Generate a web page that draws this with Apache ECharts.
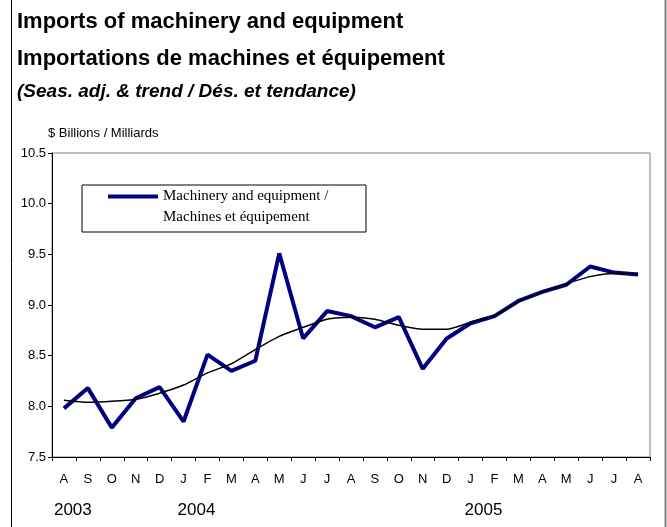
<!DOCTYPE html>
<html>
<head>
<meta charset="utf-8">
<script src="https://cdn.jsdelivr.net/npm/echarts@6/dist/echarts.min.js"></script>
</head>
<body style="margin:0;background:#fff">
<div id="main" style="width:667px;height:527px;"></div>
<script type="text/javascript">
    // month letters and year labels along the bottom
    var months = ['A', 'S', 'O', 'N', 'D', 'J', 'F', 'M', 'A', 'M', 'J', 'J', 'A',
                  'S', 'O', 'N', 'D', 'J', 'F', 'M', 'A', 'M', 'J', 'J', 'A'];
    var years = ['2003', '', '', '', '', '2004', '', '', '', '', '', '', '',
                 '', '', '', '', '2005', '', '', '', '', '', '', ''];

    // seasonally adjusted, $ billions
    var seasAdj = [7.98, 8.18, 7.79, 8.08, 8.19, 7.85, 8.51, 8.35, 8.45, 9.51, 8.67, 8.94, 8.89,
                   8.78, 8.88, 8.37, 8.67, 8.82, 8.89, 9.04, 9.13, 9.20, 9.38, 9.32, 9.30];
    // trend
    var trend = [8.06, 8.04, 8.05, 8.07, 8.13, 8.21, 8.33, 8.42, 8.56, 8.69, 8.78, 8.86, 8.88,
                 8.86, 8.80, 8.76, 8.76, 8.83, 8.90, 9.03, 9.13, 9.21, 9.28, 9.31, 9.31];

    var yTicks = { min: 7.5, max: 10.5, interval: 0.5 };

    var seriesName = 'Machinery and equipment /\nMachines et équipement';
    var sans = 'Liberation Sans, Arial, sans-serif';

    var myChart = echarts.init(document.getElementById('main'));

    var option = {
        backgroundColor: '#fff',
        animation: false,
        title: [{
            text: 'Imports of machinery and equipment',
            left: 12, top: 6,
            textStyle: { fontFamily: sans, fontSize: 22, fontWeight: 'bold', color: '#000' }
        }, {
            text: 'Importations de machines et équipement',
            left: 12, top: 43,
            textStyle: { fontFamily: sans, fontSize: 22, fontWeight: 'bold', color: '#000' }
        }, {
            text: '(Seas. adj. & trend / Dés. et tendance)',
            left: 12, top: 77,
            textStyle: { fontFamily: sans, fontSize: 19, fontWeight: 'bold', fontStyle: 'italic', color: '#000' }
        }],
        legend: {
            data: [seriesName],
            left: 108,
            top: 186,
            padding: 0,
            itemWidth: 50,
            itemHeight: 42,
            // thick line on the first text row; the two specks only stretch the box to 42px
            icon: 'path://M0,8.5L50,8.5L50,12.5L0,12.5Z M0,0L0.05,0L0.05,0.05Z M0,42L0.05,42L0.05,41.95Z',
            textStyle: {
                fontFamily: 'Liberation Serif, Times New Roman, serif',
                fontSize: 15,
                lineHeight: 21,
                color: '#000'
            }
        },
        grid: {
            left: 52, right: 17, top: 153, bottom: 70,
            show: true,
            borderColor: '#808080',
            borderWidth: 1
        },
        xAxis: [{
            type: 'category',
            data: months,
            boundaryGap: true,
            axisLine: { lineStyle: { color: '#000', width: 1 } },
            axisTick: { show: true, length: 4, lineStyle: { color: '#000' } },
            axisLabel: { interval: 0, margin: 16, color: '#000', fontFamily: sans, fontSize: 13 },
            splitLine: { show: false }
        }, {
            type: 'category',
            data: years,
            position: 'bottom',
            boundaryGap: true,
            axisLine: { show: false },
            axisTick: { show: false },
            axisLabel: {
                interval: 0, margin: 45, align: 'left', color: '#000', fontFamily: sans, fontSize: 17,
                formatter: function (v, i) {
                    return v === '' ? '' : (i === 0 ? '{f|' + v + '}' : '{o|' + v + '}');
                },
                rich: {
                    f: { fontFamily: sans, fontSize: 17, color: '#000', padding: [0, 0, 0, -10] },
                    o: { fontFamily: sans, fontSize: 17, color: '#000', padding: [0, 0, 0, -6] }
                }
            },
            splitLine: { show: false }
        }],
        yAxis: {
            type: 'value',
            min: yTicks.min,
            max: yTicks.max,
            interval: yTicks.interval,
            name: '$ Billions / Milliards',
            nameLocation: 'end',
            nameGap: 13,
            nameTextStyle: { align: 'left', color: '#000', fontFamily: sans, fontSize: 13, padding: [0, 0, 0, -4] },
            axisLine: { show: true, lineStyle: { color: '#000', width: 1 } },
            axisTick: { show: true, length: 4, lineStyle: { color: '#000' } },
            axisLabel: {
                color: '#000', fontFamily: sans, fontSize: 13, margin: 6,
                formatter: function (v) { return v.toFixed(1); }
            },
            splitLine: { show: false }
        },
        graphic: [{
            type: 'rect',
            shape: { x: 82, y: 185, width: 284, height: 47 },
            style: { fill: 'none', stroke: '#000', lineWidth: 1 },
            z: 100
        }, {
            type: 'line',
            shape: { x1: 11.5, y1: 0, x2: 11.5, y2: 527 },
            style: { stroke: '#000', lineWidth: 1 }
        }, {
            type: 'line',
            shape: { x1: 665.5, y1: 0, x2: 665.5, y2: 527 },
            style: { stroke: '#808080', lineWidth: 2 }
        }],
        series: [{
            name: seriesName,
            type: 'line',
            data: seasAdj,
            symbol: 'none',
            lineStyle: { color: '#000080', width: 4 },
            itemStyle: { color: '#000080' },
            z: 2
        }, {
            name: 'Trend',
            type: 'line',
            data: trend,
            symbol: 'none',
            smooth: 0.2,
            lineStyle: { color: '#000', width: 1.5 },
            itemStyle: { color: '#000' },
            z: 3
        }]
    };

    myChart.setOption(option);
</script>
</body>
</html>
